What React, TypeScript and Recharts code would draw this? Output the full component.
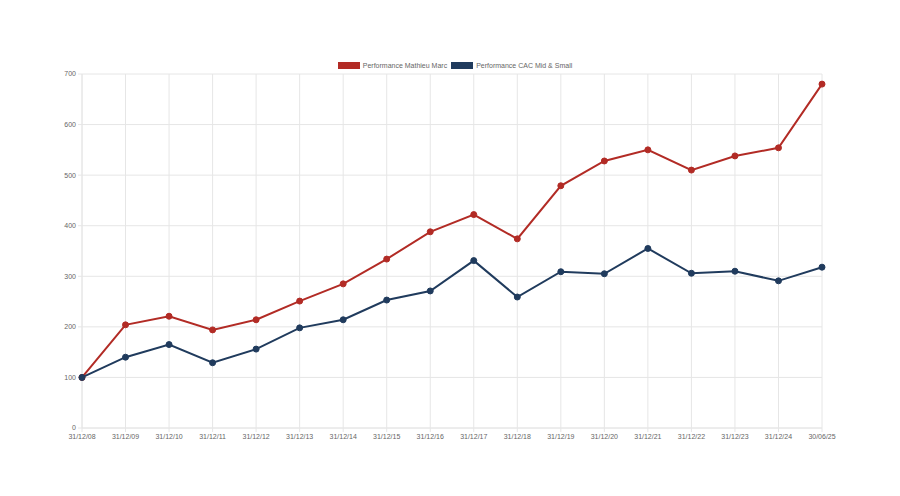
import React from 'react';
import { LineChart, Line, XAxis, YAxis, CartesianGrid, Legend } from 'recharts';

const categories = ['31/12/08','31/12/09','31/12/10','31/12/11','31/12/12','31/12/13','31/12/14','31/12/15','31/12/16','31/12/17','31/12/18','31/12/19','31/12/20','31/12/21','31/12/22','31/12/23','31/12/24','30/06/25'];
const mathieuMarc = [100, 204, 221, 194, 214, 251, 285, 334, 388, 422, 374, 479, 528, 550, 510, 538, 554, 680];
const cacMidSmall = [100, 140, 165, 129, 156, 198, 214, 253, 271, 331, 259, 309, 305, 355, 306, 310, 291, 318];
const yTicks = [0, 100, 200, 300, 400, 500, 600, 700];

const seriesNames = ['Performance Mathieu Marc', 'Performance CAC Mid & Small'];
const seriesColors = ['#b22b25', '#203b5d'];

const data = categories.map((c, i) => ({ date: c, mm: mathieuMarc[i], cac: cacMidSmall[i] }));

const FONT = '"Liberation Sans", Arial, Helvetica, sans-serif';
const GRID = '#e6e6e6';

const LegendContent = () => (
  <div style={{ display: 'flex', justifyContent: 'center', alignItems: 'center', fontFamily: FONT, fontSize: 7, color: '#666', paddingLeft: 10, height: 7, lineHeight: '7px' }}>
    {seriesNames.map((n, i) => (
      <div key={n} style={{ display: 'flex', alignItems: 'center', marginRight: i === 0 ? 4 : 0 }}>
        <span style={{ display: 'inline-block', width: 22, height: 7, background: seriesColors[i], marginRight: 3 }} />
        <span>{n}</span>
      </div>
    ))}
  </div>
);

export default function App() {
  return (
    <div style={{ position: 'absolute', left: 0, top: 0, width: 900, height: 496, background: '#fff' }}>
      <LineChart width={900} height={496} data={data} margin={{ top: 67, right: 78, bottom: 48, left: 40 }}>
        <CartesianGrid stroke={GRID} strokeWidth={1} />
        <XAxis
          dataKey="date"
          height={20}
          interval={0}
          tick={{ fontSize: 7, fill: '#666', fontFamily: FONT }}
          tickSize={4}
          tickMargin={2}
          axisLine={{ stroke: GRID }}
          tickLine={{ stroke: GRID }}
        />
        <YAxis
          width={42}
          domain={[0, 700]}
          ticks={yTicks}
          interval={0}
          tick={{ fontSize: 7, fill: '#666', fontFamily: FONT }}
          tickSize={4}
          tickMargin={2}
          axisLine={{ stroke: GRID }}
          tickLine={{ stroke: GRID }}
        />
        <Legend
          verticalAlign="top"
          align="center"
          content={<LegendContent />}
          wrapperStyle={{ position: 'absolute', top: 62, left: 0, width: 900 }}
        />
        <Line
          dataKey="mm"
          name={seriesNames[0]}
          stroke={seriesColors[0]}
          strokeWidth={2}
          dot={{ r: 3, fill: seriesColors[0], stroke: seriesColors[0], strokeWidth: 1 }}
          isAnimationActive={false}
        />
        <Line
          dataKey="cac"
          name={seriesNames[1]}
          stroke={seriesColors[1]}
          strokeWidth={2}
          dot={{ r: 3, fill: seriesColors[1], stroke: seriesColors[1], strokeWidth: 1 }}
          isAnimationActive={false}
        />
      </LineChart>
    </div>
  );
}
